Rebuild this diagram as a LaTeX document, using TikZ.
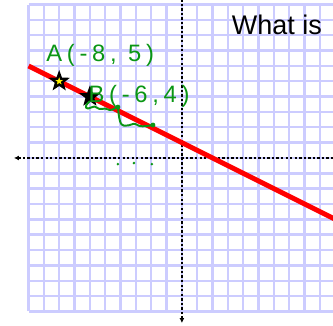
\documentclass[tikz,border=0pt]{standalone}
\usepackage{fontspec}
\usepackage{tikz}
\usetikzlibrary{arrows.meta,shapes.geometric}
\newfontfamily\labelfont{Liberation Sans}
\newfontfamily\handfont[LetterSpace=20]{Liberation Sans}
\definecolor{gridblue}{RGB}{204,204,255}
\definecolor{handgreen}{RGB}{10,150,20}

\begin{document}
\begin{tikzpicture}[
  x=0.5cm, y=0.5cm,
  >={Latex[length=1.6mm,width=1.6mm]},
  gridline/.style={gridblue, line width=2.2pt},
  axis/.style={black, line width=2.2pt, dash pattern=on 2.2pt off 2pt},
  graphline/.style={red, line width=4.6pt},
  starmark/.style={star, star points=5, star point ratio=2.4, minimum size=14.5pt, inner sep=0pt, draw=black, line width=2.2pt},
  hand/.style={handgreen, font=\handfont\fontsize{22}{26}\selectfont, anchor=base west, inner sep=0pt},
  ink/.style={handgreen, line width=1.8pt, line cap=round, line join=round},
  inkdot/.style={circle, fill=handgreen, inner sep=0pt, minimum size=#1}
]
\useasboundingbox (-11.86,-10.95) rectangle (9.85,10.3);
\clip (-11.86,-10.95) rectangle (9.85,10.3);

% grid paper
\draw[gridline, step=0.5cm] (-10,-10) grid (11,10);

% axes
\coordinate (xl) at (-10.95,0);
\coordinate (xr) at (10.5,0);
\coordinate (yb) at (0,-10.76);
\coordinate (yt) at (0,10.8);
\draw[axis, <-] (xl) -- (xr);
\draw[axis, <-] (yb) -- (yt);

% the line through A and B
\coordinate (l0) at (-10,6);
\coordinate (l1) at (11,-4.5);
\draw[graphline] (l0) -- (l1);

\node[starmark, fill=yellow] (A) at (-8,5) {};
\node[starmark, fill=black] (B) at (-6,4) {};

\node[hand] (alab) at (-8.85,6.3) {A(-8, 5)};
\node[hand] (blab) at (-6.1,3.62) {B(-6,4)};

% rise / run steps
\node[inkdot=4.5pt] (s1) at (-4.17,3.32) {};
\node[inkdot=4.5pt] (s2) at (-1.89,2.15) {};
\draw[ink] (-6.0,3.7) .. controls (-6.5,3.3) and (-6.2,3.1) .. (-5.9,3.3)
  .. controls (-5.6,3.5) and (-5.5,3.1) .. (-5.2,3.2)
  .. controls (-4.9,3.3) and (-4.8,3.05) .. (-4.55,3.15)
  .. controls (-4.35,3.25) .. (s1.center);
\draw[ink] (s1.center) .. controls (-4.1,2.6) and (-4.05,2.1) .. (-3.75,2.1)
  .. controls (-3.3,2.1) and (-3.2,2.3) .. (-3.0,2.2)
  .. controls (-2.7,2.0) and (-2.5,2.05) .. (s2.center);

\node[inkdot=2.6pt] (d1) at (-4.17,-0.4) {};
\node[inkdot=2.6pt] (d2) at (-3.13,-0.33) {};
\node[inkdot=2.6pt] (d3) at (-1.96,-0.4) {};

\node[font=\labelfont\fontsize{25}{30}\selectfont, anchor=base west, inner sep=0pt] (title) at (3.25,8.02) {What is};
\end{tikzpicture}
\end{document}
